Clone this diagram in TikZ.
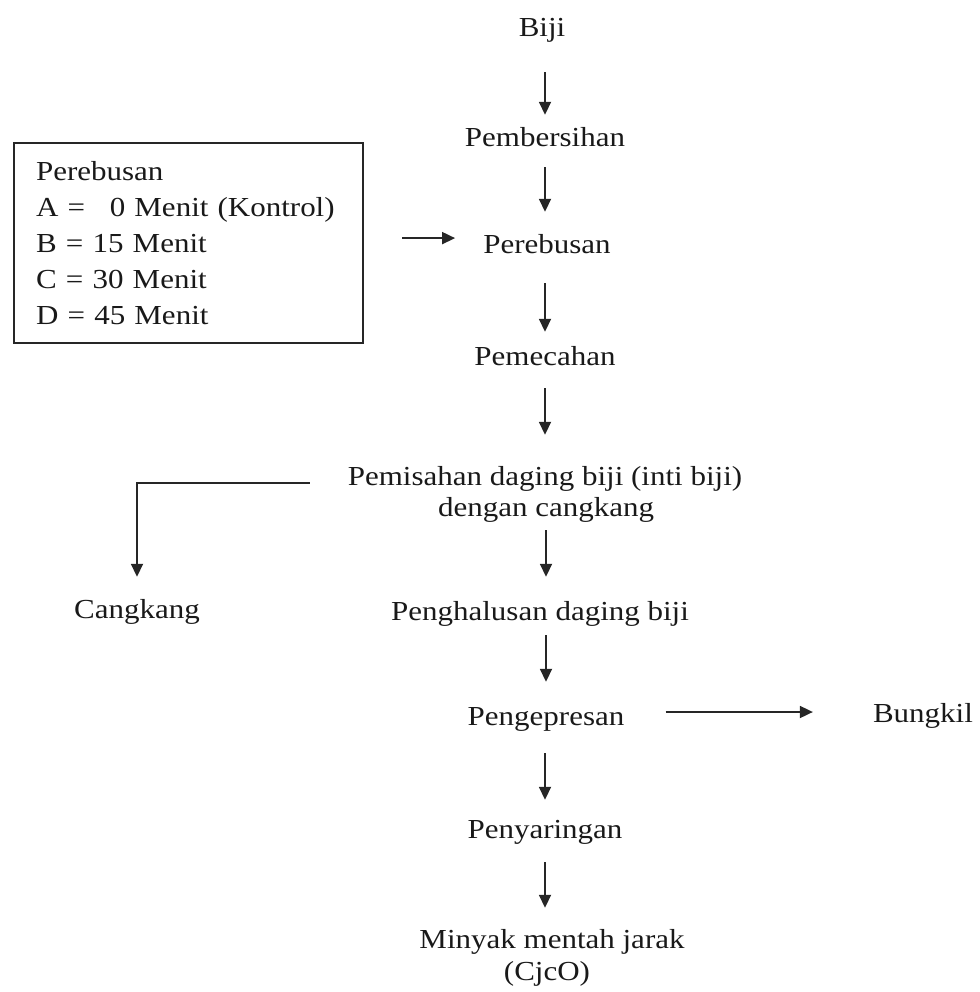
\documentclass[tikz,border=0pt]{standalone}
\usepackage{fontspec}
\setmainfont{Liberation Serif}[FakeStretch=1.127]
\usetikzlibrary{arrows.meta,calc}
\begin{document}
\begin{tikzpicture}[x=1pt,y=-1pt,
  txt/.style={inner sep=0pt, anchor=base, font=\fontsize{27.5}{31}\selectfont, text height=19pt, text depth=6pt, text=black!90},
  box/.style={draw=black!85, line width=2.2pt, anchor=north west, inner xsep=22pt, inner ysep=0pt,
    text width=305pt, minimum height=200pt, align=left, font=\fontsize{27.5}{36.2}\selectfont, text=black!90},
  arr/.style={line width=1.8pt, draw=black!85, -{Triangle[length=13pt,width=12pt]}}
]
\useasboundingbox (0,0) rectangle (979,992);

\node[txt] (biji) at (542,37) {Biji};
\node[txt] (pemb) at (545,147) {Pembersihan};
\node[txt] (pere) at (547,254) {Perebusan};
\node[txt] (peme) at (545,365) {Pemecahan};
\node[txt] (pem1) at (545,485) {Pemisahan daging biji (inti biji)};
\node[txt] (pem2) at (546,516) {dengan cangkang};
\node[txt] (peng) at (540,620) {Penghalusan daging biji};
\node[txt] (pengep) at (546,725) {Pengepresan};
\node[txt] (peny) at (545,838) {Penyaringan};
\node[txt] (miny) at (552,948) {Minyak mentah jarak};
\node[txt] (cjco) at (547,980) {(CjcO)};
\node[txt] (cang) at (137,618) {Cangkang};
\node[txt] (bung) at (923,722) {Bungkil};

\node[box] (box) at (13,142) {Perebusan\\
A = \phantom{1}0 Menit (Kontrol)\\
B = 15 Menit\\
C = 30 Menit\\
D = 45 Menit};

\draw[arr, shorten <=29pt, shorten >=13pt] (pemb.north |- biji.south) -- (pemb.north);
\draw[arr, shorten <=14pt, shorten >=23pt] (pemb.south) -- (pemb.south |- pere.north);
\draw[arr, shorten <=23pt, shorten >=14pt] (peme.north |- pere.south) -- (peme.north);
\draw[arr, shorten <=17pt, shorten >=31pt] (peme.south) -- (peme.south |- pem1.north);
\draw[arr, shorten <=8pt, shorten >=24pt] (pem2.south) -- (pem2.south |- peng.north);
\draw[arr, shorten <=9pt, shorten >=24pt] (pengep.north |- peng.south) -- (pengep.north);
\draw[arr, shorten <=22pt, shorten >=19pt] (peny.north |- pengep.south) -- (peny.north);
\draw[arr, shorten <=18pt, shorten >=21pt] (peny.south) -- (peny.south |- miny.north);

\draw[arr, shorten >=22pt] ($(pem1.west)+(-38,4.5)$) -| (cang.north);
\draw[arr] ($(pengep.east)+(41,-6.5)$) -- ($(bung.west |- pengep.east)+(-60,-6.5)$);
\draw[arr] ($(box.east)+(38,-5)$) -- ($(pere.west |- box.east)+(-28,-5)$);
\end{tikzpicture}
\end{document}
